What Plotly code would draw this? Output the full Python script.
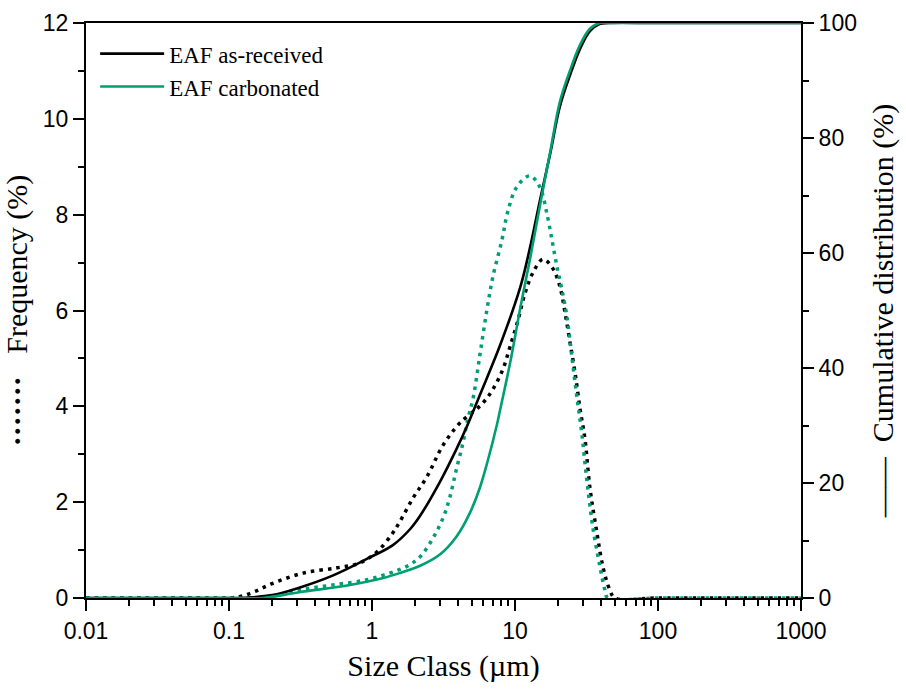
import plotly.graph_objects as go

# ---- data ----
# frequency (%) - dotted, left axis
asrec_freq_x = [0.01, 0.05, 0.1, 0.12, 0.15, 0.2, 0.33, 0.57, 0.82, 1.08, 1.4, 1.57, 1.94, 2.42,
                3.14, 3.97, 4.47, 5.88, 7.02, 8.24, 9.22, 10.5, 11.75, 13.4, 15.7, 18.2, 20.6,
                22.4, 24.3, 26.3, 28.5, 30.9, 33.4, 37.4, 41.2, 46.0, 50.0, 100, 1000]
asrec_freq = [0, 0, 0, 0.03, 0.13, 0.3, 0.52, 0.63, 0.73, 0.96, 1.36, 1.6, 2.09, 2.53,
              3.19, 3.6, 3.75, 4.05, 4.36, 4.78, 5.24, 5.8, 6.36, 6.8, 7.07, 6.9, 6.5,
              5.95, 5.32, 4.7, 3.95, 3.3, 2.3, 1.36, 0.65, 0.17, 0, 0, 0]

carb_freq_x = [0.01, 0.1, 0.17, 0.2, 0.31, 0.53, 0.92, 1.33, 1.75, 2.17, 2.67, 3.14, 3.5, 3.88,
               4.32, 4.66, 5.11, 5.7, 6.35, 7.0, 8.1, 8.9, 10.3, 12.7, 14.9, 16.9, 18.3, 19.7,
               21.3, 23.1, 25.0, 27.1, 29.3, 31.8, 35.0, 39.3, 42.5, 44.6, 100, 1000]
carb_freq = [0, 0, 0, 0.03, 0.17, 0.27, 0.38, 0.52, 0.66, 0.86, 1.25, 1.67, 2.1, 2.67,
             3.23, 3.71, 4.19, 5.1, 6.0, 6.7, 7.47, 8.06, 8.58, 8.81, 8.58, 7.95, 7.41, 6.9,
             6.43, 5.86, 5.03, 4.19, 3.44, 2.46, 1.48, 0.65, 0.17, 0, 0, 0]

# cumulative distribution (%) - solid, right axis
asrec_cum_x = [0.01, 0.1, 0.12, 0.2, 0.31, 0.53, 0.92, 1.4, 1.85, 2.17, 3.0, 3.88, 4.64, 5.7,
               7.85, 10.9, 12.7, 14.9, 17.7, 20.6, 24.3, 28.5, 33.4, 39.0, 45.0, 100, 1000]
asrec_cum = [0, 0, 0, 0.5, 1.8, 3.9, 6.8, 9.2, 12.0, 14.3, 20.3, 25.8, 30.0, 35.4,
             43.9, 54.1, 60.8, 69.0, 77.5, 85.5, 91.0, 95.5, 98.6, 99.8, 100, 100, 100]

carb_cum_x = [0.01, 0.1, 0.17, 0.31, 0.7, 1.2, 1.57, 2.17, 3.0, 3.88, 4.84, 5.7, 6.47, 7.45,
              7.85, 9.3, 10.9, 12.7, 15.4, 17.7, 20.6, 24.3, 28.5, 33.4, 39.0, 45.0, 100, 1000]
carb_cum = [0, 0, 0, 1.0, 2.26, 3.48, 4.35, 5.6, 7.6, 10.6, 14.8, 19.3, 24.0, 30.0,
            32.6, 41.2, 50.5, 58.8, 70.0, 77.8, 86.3, 91.8, 96.2, 99.0, 100, 100, 100, 100]

x_tickvals = [0.01, 0.1, 1, 10, 100, 1000]
x_ticktext = ["0.01", "0.1", "1", "10", "100", "1000"]
x_minor = [m * d for d in [0.01, 0.1, 1, 10, 100] for m in range(2, 10)]

BLACK = "#000000"
GREEN = "#009E73"
SERIF = "Liberation Serif, Times New Roman, serif"
SANS = "Liberation Sans, Arial, sans-serif"
NB = "\u00a0"

fig = go.Figure()

dot_style = dict(width=3.5, dash="3.5px,5px", shape="spline", smoothing=1.0)
fig.add_trace(go.Scatter(x=asrec_freq_x, y=asrec_freq, mode="lines", showlegend=False,
                         line=dict(color=BLACK, **dot_style), yaxis="y"))
fig.add_trace(go.Scatter(x=carb_freq_x, y=carb_freq, mode="lines", showlegend=False,
                         line=dict(color=GREEN, **dot_style), yaxis="y"))
fig.add_trace(go.Scatter(x=asrec_cum_x, y=asrec_cum, mode="lines", name="EAF as-received",
                         line=dict(color=BLACK, width=2.6, shape="spline", smoothing=1.0),
                         yaxis="y2"))
fig.add_trace(go.Scatter(x=carb_cum_x, y=carb_cum, mode="lines", name="EAF carbonated",
                         line=dict(color=GREEN, width=2.6, shape="spline", smoothing=1.0),
                         yaxis="y2"))

tickfont = dict(family=SANS, size=23, color="black")
titlefont = dict(family=SERIF, size=30, color="black")
common = dict(ticks="outside", ticklen=11, tickwidth=2, tickcolor="black",
              showline=True, linewidth=2, linecolor="black",
              showgrid=False, zeroline=False, tickfont=tickfont)

fig.update_layout(
    template="none",
    width=906, height=689,
    margin=dict(l=86, r=105, t=23, b=91),
    showlegend=True,
    legend=dict(x=0.0128, y=0.984, xanchor="left", yanchor="top",
                font=dict(family=SERIF, size=23, color="black"),
                bgcolor="rgba(0,0,0,0)", itemwidth=64, tracegroupgap=0),
    xaxis=dict(type="log", range=[-2, 3], tickmode="array", tickvals=x_tickvals,
               ticktext=x_ticktext, mirror=True,
               title=dict(text="Size Class (\u00b5m)", font=titlefont, standoff=12),
               minor=dict(tickmode="array", tickvals=x_minor, ticks="outside", ticklen=6,
                          tickwidth=2, tickcolor="black", showgrid=False),
               **common),
    yaxis=dict(range=[0, 12], dtick=2, tick0=0,
               title=dict(text=NB * 7 + "<b>\u00b7\u00b7\u00b7\u00b7\u00b7\u00b7\u00b7</b>" + NB * 3
                          + "Frequency (%)", font=titlefont, standoff=6),
               minor=dict(dtick=1, ticks="outside", ticklen=6, tickwidth=2,
                          tickcolor="black", showgrid=False),
               **common),
    yaxis2=dict(range=[0, 100], dtick=20, tick0=0, overlaying="y", side="right",
                title=dict(text="\u2014\u2014" + NB * 2 + "Cumulative distribution (%)" + NB,
                           font=titlefont, standoff=16),
                minor=dict(dtick=10, ticks="outside", ticklen=6, tickwidth=2,
                           tickcolor="black", showgrid=False),
                **common),
)

fig.write_html("out.html")
